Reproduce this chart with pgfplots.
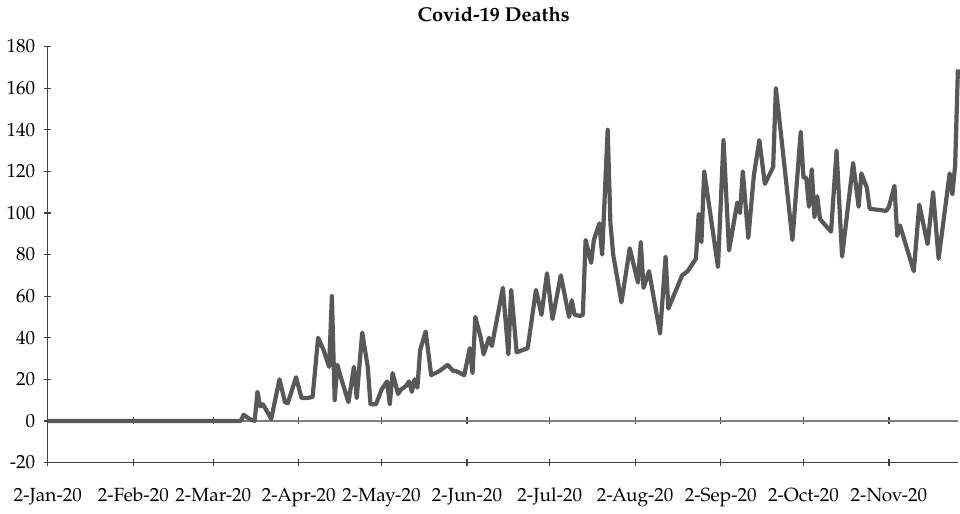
\documentclass[border=0pt]{standalone}
\usepackage{pgfplots}
\pgfplotsset{compat=1.18}
\usepackage{pgfplotstable}
\usepackage{fontspec}
\setmainfont{TeX Gyre Pagella}

\definecolor{deathline}{RGB}{88,88,88}
\definecolor{zeroline}{RGB}{125,125,125}
\definecolor{axisgray}{RGB}{64,64,64}

% day = days since 2-Jan-20, deaths
\pgfplotstableread{
day deaths
0 0
70 0
71 3
73 1
75 0
76 14
77 7
78 8
81 1
84 20
86 9
87 8.5
90 21
92 11
94 11
96 11.5
98 40
100 34
102 26
103 60
104 10
105 27
106 22
109 9
111 26
112 11
114 42.5
116 26
117 8
119 8
121 15
123 19
124 8
125 23
127 13
128 15
130 17
131 19
132 14
133 20
134 16
135 34
137 43
139 22
142 24
145 27
147 24
148 24
151 22
153 35
154 23
155 50
157 40
158 32
160 40
161 36
165 64
167 32
168 63
170 33
174 35
177 63
179 51
181 71
183 49
186 70
189 50
190 58
191 51
193 50.5
194 51
195 87
197 76
198 87
200 95
201 80
203 140
204 95
205 80
208 57
211 83
214 66.5
215 86
216 64
218 72
222 42
224 79
225 54
230 70
232 72
235 78
236 99.5
237 86
238 120
243 74
245 135
247 82
250 105
251 100
252 120
254 88
256 118
258 135
260 114
263 122
264 160
266 136
270 87
273 139
274 117
275 117
276 103
277 121
278 98
279 108
280 97
284 91
286 130
288 79
292 124
294 103
295 119
297 112
298 102
304 101
305 103
307 113
308 89
309 94
314 72
316 104
319 85
321 110
323 78
327 119
328 109
329 123
330 169
}\deaths

\begin{document}
\begin{tikzpicture}
\pgfplotsset{
  every axis/.append style={
    width=454pt, height=207.5pt, scale only axis,
    xmin=0, xmax=330, ymin=-20, ymax=180,
    xtick={0,31,60,91,121,152,182,213,244,274,305},
    tick align=outside,
    major tick length=3.5pt,
  }
}
% zero line with its own date ticks
\begin{axis}[
    axis x line=middle,
    axis y line=none,
    axis line style={-, draw=zeroline, line width=0.7pt},
    xticklabels={},
    ytick=\empty,
    xtick style={draw=axisgray, line width=0.6pt},
]
\end{axis}
\begin{axis}[
    axis x line=bottom,
    axis y line=left,
    axis line style={-, draw=axisgray, line width=0.6pt},
    tick style={draw=axisgray, line width=0.6pt},
    ytick={-20,0,20,40,60,80,100,120,140,160,180},
    xticklabels={2-Jan-20,2-Feb-20,2-Mar-20,2-Apr-20,2-May-20,2-Jun-20,2-Jul-20,2-Aug-20,2-Sep-20,2-Oct-20,2-Nov-20},
    xticklabel style={yshift=-7.5pt},
    yticklabel style={xshift=-1pt},
    ticklabel style={font=\fontsize{9.5}{11}\selectfont, text=black},
    /pgf/number format/assume math mode=true,
    title={Covid-19 Deaths},
    title style={at={(0.49,1)}, anchor=south, yshift=3pt, font=\bfseries\fontsize{10}{12}\selectfont},
    clip=false,
]
\addplot[deathline, line width=2.1pt, line join=round, no markers] table[x=day, y=deaths] {\deaths};
\end{axis}
\end{tikzpicture}
\end{document}
